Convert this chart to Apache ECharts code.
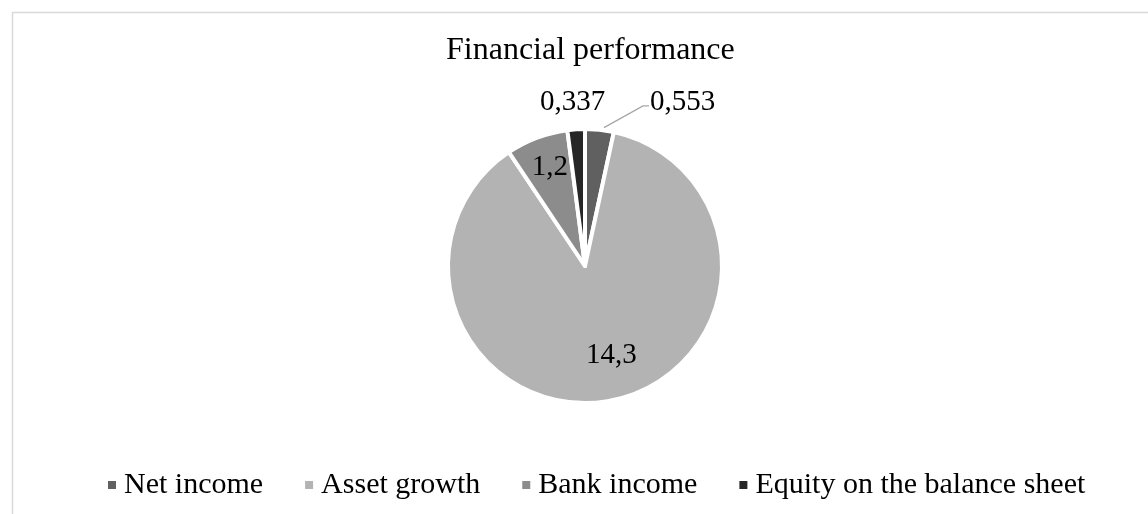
<!DOCTYPE html>
<html>
<head>
<meta charset="utf-8">
<script src="https://cdn.jsdelivr.net/npm/echarts@6/dist/echarts.min.js"></script>
<style>
html,body{margin:0;padding:0;background:#fff;}
#chart{width:1148px;height:514px;}
</style>
</head>
<body>
<div id="chart"></div>
<script>
const chartTitle = 'Financial performance';
const categories = ['Net income', 'Asset growth', 'Bank income', 'Equity on the balance sheet'];
const values = [0.553, 14.3, 1.2, 0.337];
const valueLabels = ['0,553', '14,3', '1,2', '0,337'];
const colors = ['#606060', '#b3b3b3', '#8c8c8c', '#262626'];
const labelPlacement = ['outside', 'inside', 'inside', 'outside'];

const FONT = "'Liberation Serif', 'Times New Roman', serif";
const chart = echarts.init(document.getElementById('chart'), null, {renderer: 'canvas'});

const data = categories.map((c, i) => ({
  name: c,
  value: values[i],
  itemStyle: {color: colors[i]},
  label: {position: labelPlacement[i]},
  labelLine: {show: i === 0, length: 14, length2: 6, lineStyle: {color: '#a6a6a6', width: 1.3}}
}));

// label nudges (pixels) relative to the library's computed label positions
const labelShift = [[38, -13], [13, 19], [-10, -32], [41, -13]];

chart.setOption({
  animation: false,
  backgroundColor: '#ffffff',
  graphic: [{
    type: 'rect',
    left: 10, top: 10,
    shape: {width: 1300, height: 700},
    style: {fill: 'none', stroke: '#d9d9d9', lineWidth: 1.5},
    silent: true
  }],
  title: {
    text: chartTitle,
    left: 441,
    top: 30,
    textStyle: {fontFamily: FONT, fontSize: 32, fontWeight: 'normal', color: '#000'}
  },
  legend: {
    bottom: 9,
    left: 101,
    itemWidth: 10,
    itemHeight: 10,
    itemGap: 40,
    icon: 'rect',
    textStyle: {fontFamily: FONT, fontSize: 30, color: '#000', padding: [0, 0, 0, 2]},
    data: categories
  },
  series: [{
    type: 'pie',
    center: [585, 266],
    radius: [0, 137],
    startAngle: 90,
    clockwise: true,
    avoidLabelOverlap: false,
    itemStyle: {borderColor: '#ffffff', borderWidth: 4},
    label: {
      show: true,
      fontFamily: FONT,
      fontSize: 29,
      color: '#000',
      formatter: p => valueLabels[p.dataIndex]
    },
    labelLayout: p => {
      const s = labelShift[p.dataIndex] || [0, 0];
      const out = {dx: s[0], dy: s[1]};
      if (p.labelLinePoints && p.dataIndex === 0) {
        const r = p.labelRect;
        const endX = r.x + s[0] - 1, endY = r.y + s[1] + r.height / 2 + 3;
        const p0 = p.labelLinePoints[0];
        const vx = endX - p0[0], vy = endY - p0[1];
        const len = Math.sqrt(vx * vx + vy * vy);
        const start = [p0[0] + vx / len * 5, p0[1] + vy / len * 5];
        out.labelLinePoints = [start, [endX - 6, endY], [endX, endY]];
      }
      return out;
    },
    emphasis: {disabled: true},
    data: data
  }]
});
</script>
</body>
</html>
